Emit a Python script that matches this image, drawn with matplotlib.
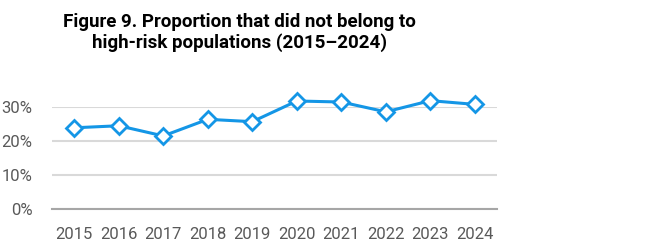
import matplotlib.pyplot as plt
from matplotlib.ticker import PercentFormatter

years = ["2015", "2016", "2017", "2018", "2019", "2020", "2021", "2022", "2023", "2024"]
share = [23.8, 24.4, 21.4, 26.3, 25.6, 31.7, 31.4, 28.5, 31.8, 30.7]

title = "Figure 9. Proportion that did not belong to\nhigh-risk populations (2015\u20132024)"

plt.rcParams["font.family"] = ["Roboto", "DejaVu Sans"]

fig = plt.figure(figsize=(6.7, 2.46), dpi=100)
ax = fig.add_axes([0.0776, 0.1524, 0.742 - 0.0776, 0.566 - 0.1524])

x = range(len(years))
ax.plot(x, share, color="#1496e6", lw=2.2, marker="D", ms=8.5, mfc="white",
        mec="#1496e6", mew=2.0, clip_on=False, zorder=3)

ax.set_xlim(-0.5, len(years) - 0.5)
ax.set_ylim(0, 30)
ax.set_yticks([0, 10, 20, 30])
ax.yaxis.set_major_formatter(PercentFormatter(decimals=0))
ax.set_xticks(list(x))
ax.set_xticklabels(years)

ax.grid(axis="y", color="#d9d9d9", lw=1.5)
ax.set_axisbelow(True)
for s in ["top", "right", "left"]:
    ax.spines[s].set_visible(False)
ax.spines["bottom"].set_color("#a6a6a6")
ax.spines["bottom"].set_linewidth(1.5)
ax.tick_params(length=0, labelsize=12, colors="#595959")
ax.tick_params(axis="x", pad=13)
ax.tick_params(axis="y", pad=14)

fig.text(0.358, 0.868, title, ha="center", va="center", fontsize=13.5,
         fontweight="bold", color="black", linespacing=1.2)

fig.savefig("out.png", dpi=100)
